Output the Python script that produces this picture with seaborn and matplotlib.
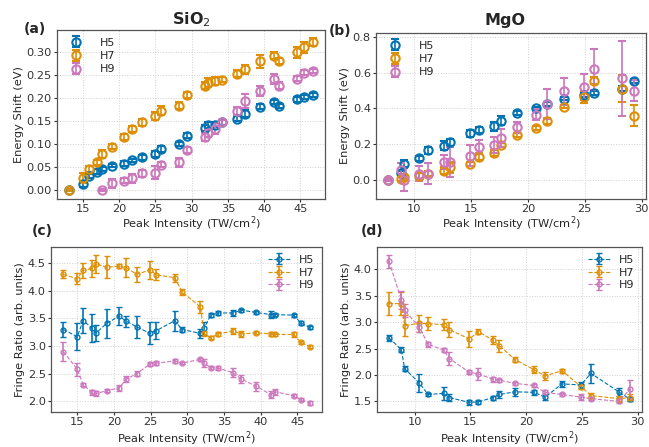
import numpy as np
import pandas as pd
import matplotlib
matplotlib.use("Agg")
import matplotlib.pyplot as plt
import seaborn as sns

# ---------------- data ----------------
# SiO2 peak intensities (TW/cm^2)
sio2_I = [13.1, 15.0, 15.8, 17.0, 17.6, 19.0, 20.7, 21.7, 23.1, 24.9, 25.8, 28.3, 29.3,
          31.8, 32.3, 33.2, 34.2, 36.2, 37.4, 39.4, 41.4, 42.0, 44.5, 45.5, 46.7]

# (a) energy shift SiO2
sio2_shift_H5 = [0.000, 0.013, 0.030, 0.040, 0.045, 0.053, 0.057, 0.064, 0.071, 0.078, 0.089, 0.100, 0.118,
                 0.135, 0.141, 0.142, 0.147, 0.155, 0.166, 0.181, 0.191, 0.183, 0.197, 0.202, 0.207]
sio2_shift_H5_err = [0.003, 0.006, 0.005, 0.006, 0.004, 0.004, 0.005, 0.004, 0.006, 0.007, 0.007, 0.004, 0.005,
                     0.007, 0.006, 0.005, 0.005, 0.005, 0.007, 0.005, 0.005, 0.004, 0.005, 0.005, 0.004]
sio2_shift_H7 = [0.000, 0.026, 0.045, 0.060, 0.078, 0.094, 0.115, 0.133, 0.147, 0.160, 0.172, 0.183, 0.207,
                 0.227, 0.233, 0.237, 0.240, 0.253, 0.262, 0.280, 0.292, 0.280, 0.299, 0.310, 0.322]
sio2_shift_H7_err = [0.002, 0.011, 0.006, 0.005, 0.008, 0.005, 0.006, 0.007, 0.007, 0.009, 0.010, 0.008, 0.007,
                     0.007, 0.010, 0.008, 0.006, 0.008, 0.009, 0.014, 0.008, 0.006, 0.012, 0.012, 0.009]
sio2_I9 = [17.6, 19.0, 20.7, 21.7, 23.1, 24.9, 25.8, 28.3, 29.3,
           31.8, 32.3, 33.2, 34.2, 36.2, 37.4, 39.4, 41.4, 42.0, 44.5, 45.5, 46.7]
sio2_shift_H9 = [0.000, 0.014, 0.020, 0.025, 0.036, 0.037, 0.055, 0.060, 0.087,
                 0.115, 0.124, 0.133, 0.147, 0.172, 0.193, 0.215, 0.241, 0.227, 0.242, 0.255, 0.259]
sio2_shift_H9_err = [0.003, 0.010, 0.005, 0.010, 0.008, 0.014, 0.006, 0.010, 0.006,
                     0.008, 0.008, 0.012, 0.006, 0.008, 0.015, 0.010, 0.010, 0.007, 0.005, 0.006, 0.005]

# MgO peak intensities (TW/cm^2)
mgo_I = [7.7, 8.8, 9.1, 10.4, 11.2, 12.6, 13.1, 14.9, 15.7, 17.0, 17.6, 19.0, 20.7, 21.7, 23.2, 24.9, 25.8, 28.3, 29.3]

# (b) energy shift MgO
mgo_shift_H5 = [0.000, 0.040, 0.090, 0.120, 0.165, 0.190, 0.210, 0.260, 0.280, 0.300, 0.330, 0.375, 0.400,
                0.425, 0.455, 0.475, 0.485, 0.510, 0.555]
mgo_shift_H5_err = [0.005, 0.010, 0.020, 0.012, 0.020, 0.025, 0.020, 0.020, 0.015, 0.025, 0.025, 0.010, 0.010,
                    0.010, 0.010, 0.012, 0.010, 0.015, 0.010]
mgo_shift_H7 = [0.000, 0.005, 0.015, 0.020, 0.035, 0.050, 0.070, 0.090, 0.130, 0.150, 0.195, 0.250, 0.290,
                0.330, 0.410, 0.465, 0.555, 0.510, 0.360]
mgo_shift_H7_err = [0.005, 0.010, 0.012, 0.020, 0.012, 0.020, 0.030, 0.010, 0.020, 0.015, 0.010, 0.010, 0.010,
                    0.015, 0.010, 0.035, 0.020, 0.075, 0.060]
mgo_shift_H9 = [0.000, 0.055, 0.000, 0.035, 0.035, 0.100, 0.100, 0.135, 0.185, 0.195, 0.235, 0.295, 0.365,
                0.425, 0.495, 0.520, 0.620, 0.570, 0.500]
mgo_shift_H9_err = [0.005, 0.040, 0.065, 0.040, 0.060, 0.040, 0.085, 0.060, 0.040, 0.045, 0.050, 0.030, 0.030,
                    0.085, 0.075, 0.075, 0.115, 0.210, 0.060]

# (c) fringe ratio SiO2
sio2_fr_H5 = [3.30, 3.17, 3.46, 3.33, 3.24, 3.41, 3.54, 3.45, 3.35, 3.23, 3.28, 3.46, 3.30,
              3.23, 3.32, 3.56, 3.60, 3.60, 3.65, 3.61, 3.57, 3.57, 3.56, 3.42, 3.34]
sio2_fr_H5_err = [0.14, 0.25, 0.23, 0.26, 0.15, 0.26, 0.16, 0.10, 0.20, 0.20, 0.15, 0.18, 0.05,
                  0.08, 0.12, 0.04, 0.04, 0.06, 0.03, 0.03, 0.06, 0.03, 0.03, 0.04, 0.03]
sio2_fr_H7 = [4.30, 4.22, 4.37, 4.41, 4.49, 4.43, 4.45, 4.42, 4.30, 4.38, 4.29, 4.24, 3.98,
              3.71, 3.23, 3.15, 3.22, 3.27, 3.22, 3.24, 3.22, 3.21, 3.21, 3.07, 2.99]
sio2_fr_H7_err = [0.07, 0.10, 0.14, 0.15, 0.17, 0.20, 0.03, 0.17, 0.14, 0.16, 0.10, 0.07, 0.05,
                  0.11, 0.05, 0.03, 0.04, 0.05, 0.06, 0.03, 0.03, 0.03, 0.05, 0.03, 0.03]
sio2_fr_H9 = [2.90, 2.58, 2.30, 2.16, 2.14, 2.19, 2.24, 2.40, 2.50, 2.67, 2.69, 2.73, 2.69,
              2.76, 2.69, 2.61, 2.60, 2.52, 2.40, 2.27, 2.12, 2.17, 2.10, 2.03, 1.97]
sio2_fr_H9_err = [0.17, 0.12, 0.03, 0.04, 0.04, 0.03, 0.06, 0.05, 0.04, 0.04, 0.03, 0.03, 0.02,
                  0.03, 0.07, 0.03, 0.03, 0.08, 0.07, 0.08, 0.07, 0.05, 0.03, 0.03, 0.03]

# (d) fringe ratio MgO
mgo_fr_H5 = [2.70, 2.48, 2.12, 1.85, 1.63, 1.65, 1.57, 1.48, 1.49, 1.57, 1.63, 1.68, 1.67,
             1.58, 1.83, 1.81, 2.03, 1.68, 1.54]
mgo_fr_H5_err = [0.06, 0.05, 0.04, 0.17, 0.03, 0.12, 0.07, 0.04, 0.04, 0.04, 0.07, 0.07, 0.05,
                 0.05, 0.06, 0.05, 0.18, 0.08, 0.04]
mgo_fr_H7 = [3.35, 3.35, 2.93, 2.98, 2.97, 2.95, 2.86, 2.68, 2.82, 2.66, 2.55, 2.29, 2.10,
             1.98, 2.08, 1.78, 1.61, 1.55, 1.57]
mgo_fr_H7_err = [0.22, 0.22, 0.20, 0.16, 0.12, 0.10, 0.15, 0.15, 0.05, 0.08, 0.11, 0.05, 0.06,
                 0.08, 0.04, 0.05, 0.05, 0.06, 0.06]
mgo_fr_H9 = [4.15, 3.42, 3.22, 2.91, 2.58, 2.47, 2.31, 2.05, 2.02, 1.92, 1.90, 1.84, 1.80,
             1.67, 1.63, 1.58, 1.55, 1.50, 1.73]
mgo_fr_H9_err = [0.13, 0.17, 0.13, 0.10, 0.05, 0.04, 0.12, 0.04, 0.12, 0.05, 0.03, 0.03, 0.03,
                 0.04, 0.03, 0.05, 0.03, 0.04, 0.18]

harmonics = ["H5", "H7", "H9"]
xlabel = "Peak Intensity (TW/cm$^2$)"
sio2_xticks = [15, 20, 25, 30, 35, 40, 45]
mgo_xticks = [10, 15, 20, 25, 30]
shift_sio2_yticks = [0.00, 0.05, 0.10, 0.15, 0.20, 0.25, 0.30]
shift_mgo_yticks = [0.0, 0.2, 0.4, 0.6, 0.8]
ratio_sio2_yticks = [2.0, 2.5, 3.0, 3.5, 4.0, 4.5]
ratio_mgo_yticks = [1.5, 2.0, 2.5, 3.0, 3.5, 4.0]

# ---------------- style ----------------
sns.set_theme(style="whitegrid", palette="colorblind")
plt.rcParams.update({
    "font.family": ["DejaVu Sans"],
    "font.size": 8.2,
    "axes.labelsize": 8.2,
    "xtick.labelsize": 8.2,
    "ytick.labelsize": 8.2,
    "legend.fontsize": 8.0,
    "grid.linestyle": ":",
    "grid.color": "#d0d0d0",
    "grid.linewidth": 0.7,
    "axes.edgecolor": "#555555",
    "axes.linewidth": 0.9,
    "xtick.bottom": True,
    "ytick.left": True,
    "xtick.major.size": 2.2,
    "ytick.major.size": 2.2,
    "xtick.major.width": 0.8,
    "ytick.major.width": 0.8,
    "xtick.color": "#333333",
    "ytick.color": "#333333",
    "xtick.major.pad": 1.2,
    "ytick.major.pad": 1.5,
})
colors = sns.color_palette("colorblind")
cols = [colors[0], colors[1], colors[4]]

W, H = 649, 447
fig = plt.figure(figsize=(W / 100, H / 100), dpi=100)


def ax_px(l, r, t, b):
    return fig.add_axes([l / W, 1 - b / H, (r - l) / W, (b - t) / H])


ax_a = ax_px(57, 325, 30, 199)
ax_b = ax_px(376, 646, 33, 199)
ax_c = ax_px(51, 322, 247, 412)
ax_d = ax_px(377, 642, 247, 412)


def shift_panel(ax, xs, ys, es):
    for x, y, e, c, lab in zip(xs, ys, es, cols, harmonics):
        df = pd.DataFrame({"x": x, "y": y})
        ax.errorbar(df["x"], df["y"], yerr=e, fmt="o", mfc="none", mec=c, color=c,
                    ms=6, mew=1.5, elinewidth=1.2, capsize=2.8, capthick=1.2, label=lab)
    ax.legend(loc="upper left", frameon=False, handletextpad=1.2, borderaxespad=0.4,
              labelspacing=0.3, borderpad=0.3)
    ax.set_xlabel(xlabel, labelpad=0.5)
    ax.set_ylabel("Energy Shift (eV)", labelpad=2)


def ratio_panel(ax, x, ys, es):
    for y, e, c, lab in zip(ys, es, cols, harmonics):
        df = pd.DataFrame({"x": x, "y": y})
        ax.errorbar(df["x"], df["y"], yerr=e, fmt="o--", mfc="none", mec=c, color=c,
                    ms=3.5, mew=1.0, lw=0.8, elinewidth=1.2, capsize=2.5, capthick=1.1,
                    label=lab)
    ax.legend(loc="upper right", frameon=False, borderaxespad=0.4, labelspacing=0.25,
              borderpad=0.3)
    ax.set_xlabel(xlabel)
    ax.xaxis.set_label_coords(0.5, -0.103)
    ax.set_ylabel("Fringe Ratio (arb. units)", labelpad=2)


shift_panel(ax_a, [sio2_I, sio2_I, sio2_I9],
            [sio2_shift_H5, sio2_shift_H7, sio2_shift_H9],
            [sio2_shift_H5_err, sio2_shift_H7_err, sio2_shift_H9_err])
shift_panel(ax_b, [mgo_I, mgo_I, mgo_I],
            [mgo_shift_H5, mgo_shift_H7, mgo_shift_H9],
            [mgo_shift_H5_err, mgo_shift_H7_err, mgo_shift_H9_err])
ratio_panel(ax_c, sio2_I, [sio2_fr_H5, sio2_fr_H7, sio2_fr_H9],
            [sio2_fr_H5_err, sio2_fr_H7_err, sio2_fr_H9_err])
ratio_panel(ax_d, mgo_I, [mgo_fr_H5, mgo_fr_H7, mgo_fr_H9],
            [mgo_fr_H5_err, mgo_fr_H7_err, mgo_fr_H9_err])

ax_a.set_xticks(sio2_xticks)
ax_c.set_xticks(sio2_xticks)
ax_b.set_xticks(mgo_xticks)
ax_d.set_xticks(mgo_xticks)
ax_a.set_yticks(shift_sio2_yticks)
ax_a.yaxis.set_major_formatter(matplotlib.ticker.FormatStrFormatter("%.2f"))
ax_b.set_yticks(shift_mgo_yticks)
ax_b.yaxis.set_major_formatter(matplotlib.ticker.FormatStrFormatter("%.1f"))
ax_c.set_yticks(ratio_sio2_yticks)
ax_c.yaxis.set_major_formatter(matplotlib.ticker.FormatStrFormatter("%.1f"))
ax_d.set_yticks(ratio_mgo_yticks)
ax_d.yaxis.set_major_formatter(matplotlib.ticker.FormatStrFormatter("%.1f"))

# titles and panel labels
fig.text(191 / W, 1 - 20 / H, "SiO$_2$", ha="center", va="center", fontsize=11.5, fontweight="bold")
fig.text(505 / W, 1 - 20 / H, "MgO", ha="center", va="center", fontsize=11.5, fontweight="bold")
for lab, (px, py) in {"(a)": (35, 29), "(b)": (340, 31), "(c)": (42, 231), "(d)": (372, 231)}.items():
    fig.text(px / W, 1 - py / H, lab, ha="center", va="center", fontsize=10, fontweight="bold")

fig.savefig("out.png", dpi=100)
